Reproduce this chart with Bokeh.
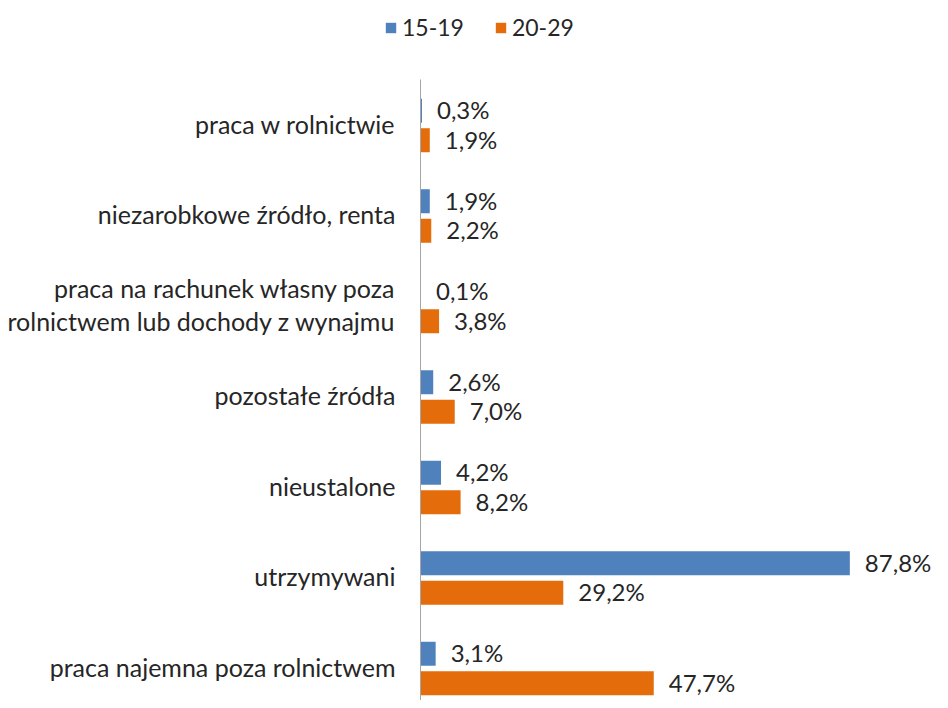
from bokeh.plotting import figure
from bokeh.models import ColumnDataSource, Range1d
from bokeh.transform import dodge
from bokeh.embed import file_html
from bokeh.resources import INLINE

categories = [
    "praca w rolnictwie",
    "niezarobkowe źródło, renta",
    "praca na rachunek własny poza\nrolnictwem lub dochody z wynajmu",
    "pozostałe źródła",
    "nieustalone",
    "utrzymywani",
    "praca najemna poza rolnictwem",
]
series_names = ["15-19", "20-29"]
values_15_19 = [0.3, 1.9, 0.1, 2.6, 4.2, 87.8, 3.1]
values_20_29 = [1.9, 2.2, 3.8, 7.0, 8.2, 29.2, 47.7]
colors = ["#4F81BD", "#E46C0A"]

FONT = "Lato"
TEXT_COLOR = "#262626"

n = len(categories)
ypos = [n - 1 - i for i in range(n)]


def fmt(v):
    return f"{v:.1f}".replace(".", ",") + "%"


src = ColumnDataSource(dict(
    y=ypos,
    cat=categories,
    zero=[0] * n,
    a=values_15_19,
    b=values_20_29,
    la=[fmt(v) for v in values_15_19],
    lb=[fmt(v) for v in values_20_29],
))

# layout geometry (pixels)
W, H = 935, 700
AXIS_X = 420          # axis line position inside canvas
PX_PER_UNIT = 4.89    # horizontal scale
PITCH = 90.5          # category pitch in pixels
TOP_CENTER = 125      # first category centre (canvas px)
AXIS_TOP = 79         # top of axis line (canvas px)

x0 = -AXIS_X / PX_PER_UNIT
x1 = (W - AXIS_X) / PX_PER_UNIT
ytop = (n - 1) + TOP_CENTER / PITCH
ybot = (n - 1) - (H - TOP_CENTER) / PITCH
axis_top_val = (n - 1) + (TOP_CENTER - AXIS_TOP) / PITCH

p = figure(
    width=W, height=H,
    output_backend="svg", toolbar_location=None,
    x_range=Range1d(x0, x1),
    y_range=Range1d(ybot, ytop),
    x_axis_location=None, y_axis_location=None,
    min_border=0,
)
p.outline_line_color = None
p.xgrid.visible = False
p.ygrid.visible = False
p.background_fill_color = "white"
p.border_fill_color = "white"

off = 0.163
bh = 0.265
p.hbar(y=dodge("y", off, range=p.y_range), right="a", left=0, height=bh,
       source=src, fill_color=colors[0], line_color=None, legend_label=series_names[0])
p.hbar(y=dodge("y", -off, range=p.y_range), right="b", left=0, height=bh,
       source=src, fill_color=colors[1], line_color=None, legend_label=series_names[1])

# vertical category axis line
p.segment(x0=[0], y0=[ybot], x1=[0], y1=[axis_top_val],
          line_color="#A6A6A6", line_width=1)

# category labels
p.text(x="zero", y="y", text="cat", source=src,
       x_offset=-25, y_offset=-2, text_align="right", text_baseline="middle",
       text_line_height=1.1,
       text_font={"value": FONT}, text_font_size="25px", text_color=TEXT_COLOR)

# data labels
p.text(x="a", y=dodge("y", off, range=p.y_range), text="la", source=src,
       x_offset=15, y_offset=-1, text_align="left", text_baseline="middle",
       text_font={"value": FONT}, text_font_size="24px", text_color=TEXT_COLOR)
p.text(x="b", y=dodge("y", -off, range=p.y_range), text="lb", source=src,
       x_offset=15, y_offset=-1, text_align="left", text_baseline="middle",
       text_font={"value": FONT}, text_font_size="24px", text_color=TEXT_COLOR)

lg = p.legend[0]
lg.location = (384, 659)
lg.orientation = "horizontal"
lg.border_line_color = None
lg.background_fill_alpha = 0
lg.padding = 0
lg.margin = 0
lg.spacing = 30
lg.label_standoff = 5
lg.glyph_width = 13
lg.glyph_height = 13
lg.label_text_font = FONT
lg.label_text_font_size = "23px"
lg.label_text_color = TEXT_COLOR
lg.label_height = 20

open("out.html", "w").write(file_html(p, INLINE))
